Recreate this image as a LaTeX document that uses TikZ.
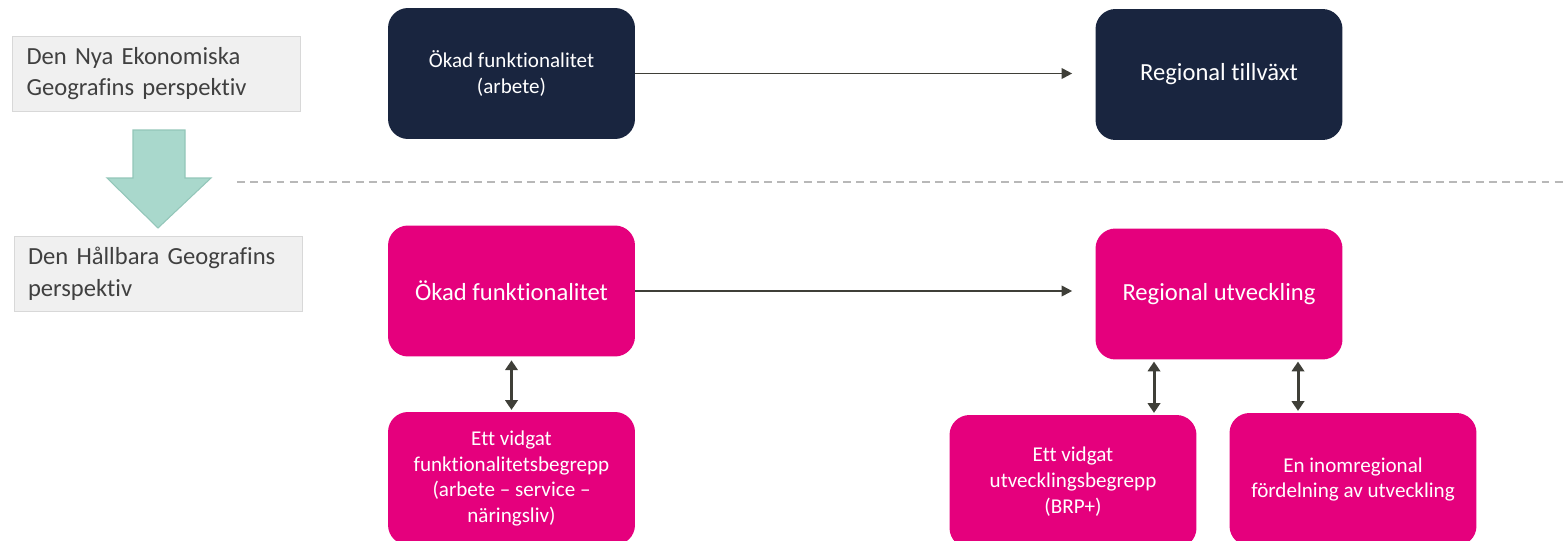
\documentclass[tikz,border=0pt]{standalone}
\usepackage{fontspec}
\setmainfont[Ligatures=NoCommon]{Carlito}
\usepackage{tikz}
\usetikzlibrary{arrows.meta, positioning, calc}
\usepackage{xcolor}
\definecolor{hgnavy}{HTML}{19253F}
\definecolor{hgpink}{HTML}{E5007D}
\definecolor{hggray}{HTML}{F0F0F0}
\definecolor{hgedge}{HTML}{D8D8D8}
\definecolor{hgmint}{HTML}{A9D8CC}
\definecolor{hgmintedge}{HTML}{93C6B9}
\definecolor{hgarrow}{HTML}{3F3F38}
\definecolor{hgdash}{HTML}{B8B8B8}

\begin{document}
\begin{tikzpicture}[
    x=0.02cm, y=-0.02cm,
    card/.style={
        rectangle,
        rounded corners=0.4cm,
        minimum width=4.94cm,
        minimum height=2.62cm,
        inner sep=0pt,
        align=center,
        text=white,
        fill=#1
    },
    persp/.style={
        rectangle,
        minimum width=5.76cm,
        minimum height=1.5cm,
        text width=5.2cm,
        inner xsep=0.28cm,
        align=left,
        draw=hgedge,
        fill=hggray,
        text=black!75,
        font=\fontsize{14}{18}\selectfont
    },
    small/.style={font=\fontsize{12}{14.6}\selectfont},
    large/.style={font=\fontsize{14}{17}\selectfont},
    link/.style={
        -{Triangle[length=6pt, width=6pt]},
        line width=1.1pt,
        hgarrow
    },
    twoway/.style={
        {Triangle[length=5.5pt, width=7pt]}-{Triangle[length=5.5pt, width=7pt]},
        line width=1.7pt,
        hgarrow
    },
    divider/.style={
        dashed,
        dash pattern=on 4.5pt off 3pt,
        line width=1.1pt,
        hgdash
    },
    shiftarrow/.style={
        fill=hgmint,
        draw=hgmintedge,
        line width=0.6pt
    }
]
\useasboundingbox (0,0) rectangle (1566,541);
\clip (0,0) rectangle (1566,541);

% Perspectives
\node[persp] (nyaeko) at (156.5,73.5) {Den Nya Ekonomiska\\Geografins perspektiv};
\node[persp] (hallbar) at (158,274) {Den Hållbara Geografins\\perspektiv};

% Shift between perspectives
\draw[shiftarrow] (133,130) -- (185,130) -- (185,178) -- (211,178) -- (158,228)
    -- (107,178) -- (133,178) -- cycle;

% Divider
\draw[divider] (237,182) -- (1566,182);

% Top row
\node[card=hgnavy, small] (funkarb) at (511.5,73.5) {Ökad funktionalitet\\(arbete)};
\node[card=hgnavy, large] (tillvaxt) at (1219,74.5) {Regional tillväxt};

% Middle row
\node[card=hgpink, large] (funk) at (511.5,291) {Ökad funktionalitet};
\node[card=hgpink, large] (utv) at (1219,294) {Regional utveckling};

% Bottom row
\node[card=hgpink, small, minimum height=2.66cm] (vidfunk) at (511.5,478.5)
    {Ett vidgat\\funktionalitetsbegrepp\\(arbete -- service --\\näringsliv)};
\node[card=hgpink, small, minimum height=2.66cm] (vidutv) at (1073,481.5)
    {Ett vidgat\\utvecklingsbegrepp\\(BRP+)};
\node[card=hgpink, small, minimum height=2.66cm] (inom) at (1353,479.5)
    {En inomregional\\fördelning av utveckling};

% Arrows
\draw[link, shorten >=0.46cm] (funkarb.east) -- (funkarb.east -| tillvaxt.west);
\draw[link, shorten >=0.46cm] (funk.east) -- (funk.east -| utv.west);

\coordinate (a1) at ($(utv.south)+(-65,0)$);
\coordinate (a2) at ($(utv.south)+(79,0)$);
\draw[twoway, shorten <=2pt, shorten >=1pt] (funk.south) -- (vidfunk.north);
\draw[twoway, shorten <=1pt, shorten >=1pt] (a1) -- (a1 |- vidutv.north);
\draw[twoway, shorten <=1pt, shorten >=1pt] (a2) -- (a2 |- inom.north);

\end{tikzpicture}
\end{document}
